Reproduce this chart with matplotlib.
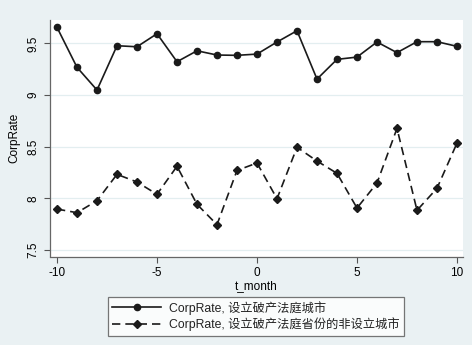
import matplotlib
matplotlib.use('Agg')
import matplotlib.pyplot as plt
import numpy as np

plt.rcParams['font.family'] = ['Liberation Sans', 'Noto Sans CJK SC', 'DejaVu Sans']

# months relative to event
t_month = list(range(-10, 11))

# CorpRate, cities with bankruptcy court
city_rate = [9.655, 9.268, 9.048, 9.477, 9.467, 9.593, 9.322, 9.428, 9.387, 9.384,
             9.396, 9.513, 9.622, 9.154, 9.345, 9.367, 9.513, 9.41, 9.516, 9.516, 9.471]
# CorpRate, non-court cities in the same provinces
other_rate = [7.896, 7.861, 7.977, 8.232, 8.158, 8.039, 8.31, 7.942, 7.745, 8.27,
              8.342, 7.996, 8.494, 8.361, 8.242, 7.906, 8.148, 8.677, 7.884, 8.097, 8.535]

y_ticks = [7.5, 8, 8.5, 9, 9.5]
y_ticklabels = ['7.5', '8', '8.5', '9', '9.5']
x_ticks = [-10, -5, 0, 5, 10]
labels = ['CorpRate, 设立破产法庭城市', 'CorpRate, 设立破产法庭省份的非设立城市']

bg = '#eaf1f3'
fig = plt.figure(figsize=(4.72, 3.45), dpi=100, facecolor=bg)
ax = fig.add_axes([50/472, 1 - 256.5/345, 413/472, 236.5/345])
ax.set_facecolor('white')

ax.plot(t_month, city_rate, color='#1a1a1a', lw=1.2, marker='o', ms=4.5, label=labels[0])
ax.plot(t_month, other_rate, color='#1a1a1a', lw=1.2, ls=(0, (5, 3)), marker='D', ms=4,
        label=labels[1])

ax.set_xlim(-10.35, 10.3)
ax.set_ylim(7.437, 9.726)
ax.set_yticks(y_ticks, labels=y_ticklabels, rotation=90, va='center')
ax.set_xticks(x_ticks, labels=[str(v) for v in x_ticks])
ax.tick_params(labelsize=8.5, length=4, color='#555555', width=0.8)
ax.grid(axis='y', color='#e3eef0', lw=0.9)
ax.set_axisbelow(True)
for s in ['top', 'right']:
    ax.spines[s].set_visible(False)
for s in ['left', 'bottom']:
    ax.spines[s].set_color('#666666')
    ax.spines[s].set_linewidth(0.9)

ax.set_xlabel('t_month', fontsize=8.5, labelpad=1)
ax.set_ylabel('CorpRate', fontsize=8.5, labelpad=5)

leg = fig.legend(loc='lower center', bbox_to_anchor=(0.542, 0.027), ncol=1, fontsize=8.8,
                 frameon=True, fancybox=False, handlelength=4.0, handletextpad=0.6,
                 borderpad=0.35, borderaxespad=0, labelspacing=0.25, edgecolor='#555555')
leg.get_frame().set_linewidth(0.9)
for txt in leg.get_texts():
    txt.set_color('#222222')

fig.savefig('out.png', dpi=100, facecolor=bg)
